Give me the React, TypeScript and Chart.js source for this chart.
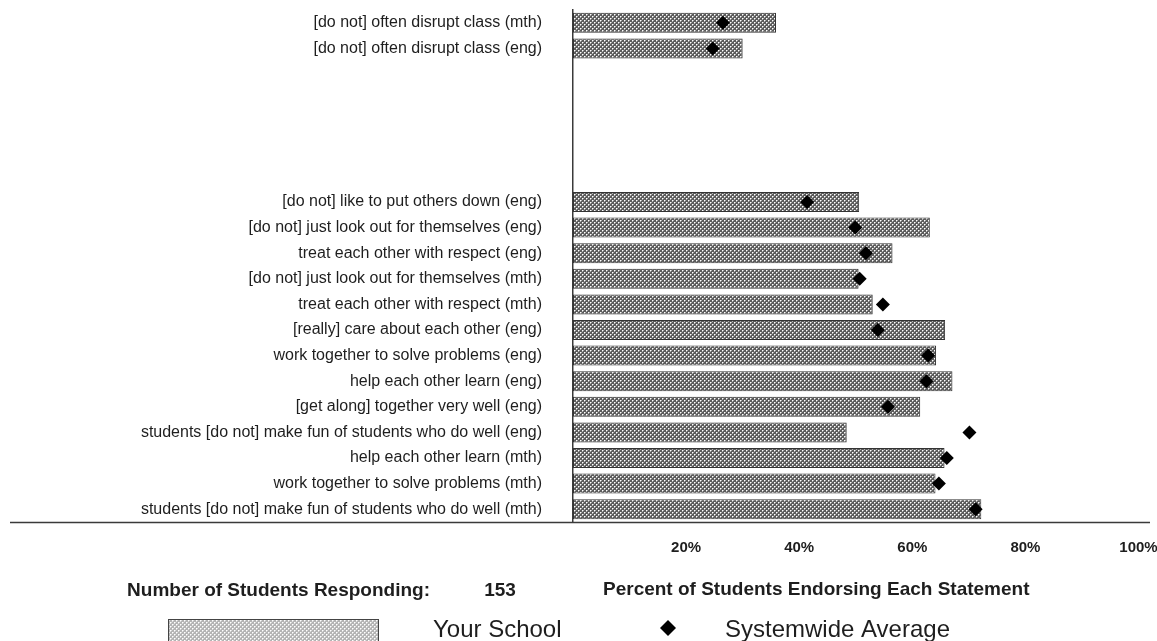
import React, { useEffect, useRef } from 'react';
import { Chart, registerables } from 'chart.js';

Chart.register(...registerables);

// ---- Data (top to bottom) ----
const categories: string[] = [
  '[do not] often disrupt class (mth)',
  '[do not] often disrupt class (eng)',
  '',
  '',
  '',
  '',
  '',
  '[do not] like to put others down (eng)',
  '[do not] just look out for themselves (eng)',
  'treat each other with respect (eng)',
  '[do not] just look out for themselves (mth)',
  'treat each other with respect (mth)',
  '[really] care about each other (eng)',
  'work together to solve problems (eng)',
  'help each other learn (eng)',
  '[get along] together very well (eng)',
  'students [do not] make fun of students who do well (eng)',
  'help each other learn (mth)',
  'work together to solve problems (mth)',
  'students [do not] make fun of students who do well (mth)',
];

const yourSchool: (number | null)[] = [
  35.9, 30.0, null, null, null, null, null,
  50.6, 63.1, 56.5, 50.5, 53.0, 65.8, 64.2, 67.1, 61.4, 48.4, 65.7, 64.1, 72.2,
];

const systemwideAverage: (number | null)[] = [
  26.5, 24.7, null, null, null, null, null,
  41.4, 49.9, 51.8, 50.7, 54.8, 53.9, 62.8, 62.5, 55.7, 70.1, 66.1, 64.7, 71.2,
];

const xTickStep = 20;
const xMin = 0;
const xMax = 100;
const respondentsLabel = 'Number of Students Responding:';
const respondentsCount = '153';
const xAxisTitle = 'Percent of Students Endorsing Each Statement';
const legendLabels = ['Your School', 'Systemwide Average'];

const FONT = '"Liberation Sans", Arial, Helvetica, sans-serif';

function makePattern(base: string, light: string, mid: string): CanvasPattern | string {
  const tile = document.createElement('canvas');
  tile.width = 4;
  tile.height = 4;
  const c = tile.getContext('2d');
  if (!c) return base;
  c.fillStyle = base;
  c.fillRect(0, 0, 4, 4);
  c.fillStyle = mid;
  c.fillRect(1, 0, 1, 1);
  c.fillRect(0, 1, 1, 1);
  c.fillRect(3, 2, 1, 1);
  c.fillRect(2, 3, 1, 1);
  c.fillStyle = light;
  c.fillRect(0, 0, 1, 1);
  c.fillRect(2, 2, 1, 1);
  const p = c.createPattern(tile, 'repeat');
  return p || base;
}

export default function App() {
  const ref = useRef<HTMLCanvasElement | null>(null);

  useEffect(() => {
    const canvas = ref.current;
    if (!canvas) return;
    const barPattern = makePattern('#5c5c5c', '#ffffff', '#b0b0b0');
    const swatchPattern = makePattern('#b4b4b4', '#ffffff', '#dcdcdc');

    const footerPlugin = {
      id: 'footerPlugin',
      afterDraw(chart: any) {
        const ctx = chart.ctx as CanvasRenderingContext2D;
        const area = chart.chartArea;
        ctx.save();
        // extended horizontal axis line
        ctx.strokeStyle = '#3a3a3a';
        ctx.lineWidth = 1.5;
        ctx.beginPath();
        ctx.moveTo(10, area.bottom + 0.5);
        ctx.lineTo(1150, area.bottom + 0.5);
        ctx.stroke();

        ctx.fillStyle = '#1e1e1e';
        ctx.textBaseline = 'middle';
        ctx.font = `bold 19px ${FONT}`;
        ctx.textAlign = 'right';
        ctx.fillText(respondentsLabel, 430, 591);
        ctx.textAlign = 'center';
        ctx.fillText(respondentsCount, 500, 591);
        ctx.textAlign = 'left';
        ctx.fillText(xAxisTitle, 603, 590);

        // legend swatch
        ctx.fillStyle = swatchPattern as any;
        ctx.fillRect(168, 619, 211, 26);
        ctx.strokeStyle = '#444';
        ctx.lineWidth = 1;
        ctx.strokeRect(168.5, 619.5, 210, 26);

        ctx.fillStyle = '#1e1e1e';
        ctx.font = `24px ${FONT}`;
        ctx.textBaseline = 'alphabetic';
        ctx.textAlign = 'left';
        ctx.fillText(legendLabels[0], 433, 637);
        ctx.fillText(legendLabels[1], 725, 637);

        // legend diamond
        ctx.fillStyle = '#000';
        const dx = 668, dy = 628, r = 8;
        ctx.beginPath();
        ctx.moveTo(dx, dy - r);
        ctx.lineTo(dx + r, dy);
        ctx.lineTo(dx, dy + r);
        ctx.lineTo(dx - r, dy);
        ctx.closePath();
        ctx.fill();
        ctx.restore();
      },
    };

    const chart = new Chart(canvas, {
      type: 'bar',
      data: {
        labels: categories,
        datasets: [
          {
            type: 'line',
            label: legendLabels[1],
            data: systemwideAverage,
            indexAxis: 'y',
            showLine: false,
            pointStyle: 'rectRot',
            pointRadius: 7,
            pointBackgroundColor: '#000',
            pointBorderColor: '#000',
            pointBorderWidth: 0,
            order: 0,
          } as any,
          {
            type: 'bar',
            label: legendLabels[0],
            data: yourSchool,
            backgroundColor: barPattern as any,
            borderColor: '#333333',
            borderWidth: 1,
            borderSkipped: false,
            barPercentage: 0.78,
            categoryPercentage: 1,
            order: 1,
          } as any,
        ],
      },
      options: {
        indexAxis: 'y',
        responsive: false,
        animation: false,
        layout: { padding: { left: 0, right: 18.5, top: 10, bottom: 0 } },
        plugins: {
          legend: { display: false },
          tooltip: { enabled: false },
          title: { display: false },
        },
        scales: {
          x: {
            type: 'linear',
            min: xMin,
            max: xMax,
            ticks: {
              stepSize: xTickStep,
              padding: 17,
              color: '#1e1e1e',
              font: { family: FONT, size: 15, weight: 'bold' },
              callback: (v: any) => (Number(v) === 0 ? '' : `${v}%`),
              maxRotation: 0,
            },
            grid: { display: false, drawTicks: false },
            border: { display: false },
            afterFit: (scale: any) => {
              scale.height = 119;
              scale.paddingLeft = 0;
              scale.paddingRight = 0;
            },
          },
          y: {
            type: 'category',
            ticks: {
              padding: 31,
              color: '#1e1e1e',
              font: { family: FONT, size: 16 },
              autoSkip: false,
            },
            grid: { display: false, drawTicks: false },
            border: { display: true, color: '#3a3a3a', width: 1.5 },
            afterFit: (scale: any) => {
              scale.width = 573;
              scale.paddingTop = 0;
              scale.paddingBottom = 0;
            },
          },
        },
      } as any,
      plugins: [footerPlugin],
    });

    return () => {
      chart.destroy();
    };
  }, []);

  return (
    <div style={{ position: 'fixed', left: 0, top: 0, width: 1157, height: 641, background: '#fff' }}>
      <canvas ref={ref} width={1157} height={641} style={{ display: 'block' }} />
    </div>
  );
}
